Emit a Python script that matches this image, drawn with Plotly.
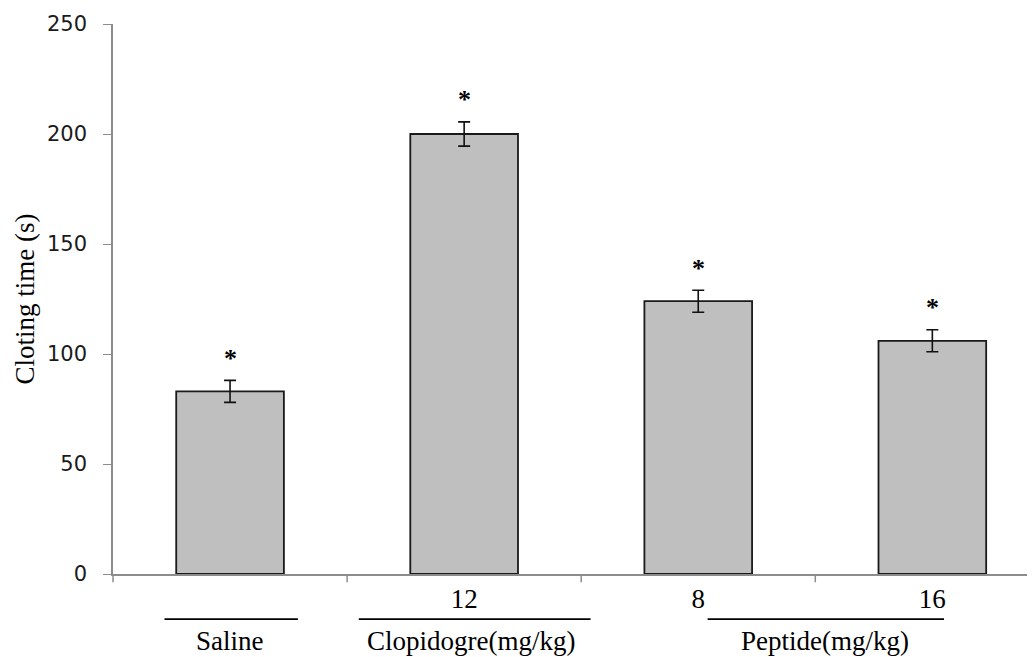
import plotly.graph_objects as go

categories = ["Saline", "Clopidogrel 12", "Peptide 8", "Peptide 16"]
tick_labels = ["", "12", "8", "16"]
values = [83, 200, 124, 106]
errors = [5, 5.5, 5, 5]
group_labels = ["Saline", "Clopidogre(mg/kg)", "Peptide(mg/kg)"]
group_spans = [(-0.28, 0.29), (0.55, 1.54), (2.04, 3.05)]
group_centers = [0.0, 1.03, 2.54]

fig = go.Figure()
fig.add_trace(go.Bar(
    x=list(range(len(categories))), y=values, width=0.46,
    marker=dict(color="#bfbfbf", line=dict(color="#1a1a1a", width=1.8)),
    error_y=dict(type="data", array=errors, visible=True, color="#111111",
                 thickness=1.6, width=6),
    showlegend=False,
))

for i, (v, e) in enumerate(zip(values, errors)):
    fig.add_annotation(x=i, y=v + e, text="<b>*</b>", showarrow=False, yshift=22,
                       font=dict(family="Liberation Serif", size=26, color="black"))

for (a, b) in group_spans:
    fig.add_shape(type="line", xref="x", yref="paper", x0=a, x1=b, y0=-0.082, y1=-0.082,
                  line=dict(color="black", width=1.8))

for lab, c in zip(group_labels, group_centers):
    fig.add_annotation(x=c, y=-0.121, xref="x", yref="paper", text=lab, showarrow=False,
                       yanchor="middle",
                       font=dict(family="Liberation Serif", size=27, color="black"))

fig.update_layout(
    width=1027, height=649,
    margin=dict(l=105, r=2, t=16, b=83),
    plot_bgcolor="white", paper_bgcolor="white",
    xaxis=dict(range=[-0.5, 3.43], tickmode="array", tickvals=list(range(len(categories))),
               ticktext=tick_labels, showline=True, linecolor="#8c8c8c", linewidth=1.5,
               ticks="", showgrid=False, zeroline=False,
               tickfont=dict(family="Liberation Serif", size=27, color="black")),
    yaxis=dict(range=[0, 250], dtick=50, showline=True, linecolor="#8c8c8c", linewidth=1.5,
               ticks="outside", ticklen=8, tickcolor="#8c8c8c", showgrid=False, zeroline=False,
               ticklabelstandoff=12,
               tickfont=dict(family="DejaVu Sans", size=21, color="#1a1a1a"),
               title=dict(text="Cloting time (s)", standoff=5,
                          font=dict(family="Liberation Serif", size=27, color="black"))),
)

# boundary ticks on x axis
for b in [0.5, 1.5, 2.5]:
    fig.add_shape(type="line", xref="x", yref="paper", x0=b, x1=b, y0=0, y1=-0.015,
                  line=dict(color="#8c8c8c", width=1.5))
fig.add_shape(type="line", xref="paper", yref="paper", x0=0, x1=0, y0=0, y1=-0.015,
              line=dict(color="#8c8c8c", width=1.5))

fig.write_html("out.html")
